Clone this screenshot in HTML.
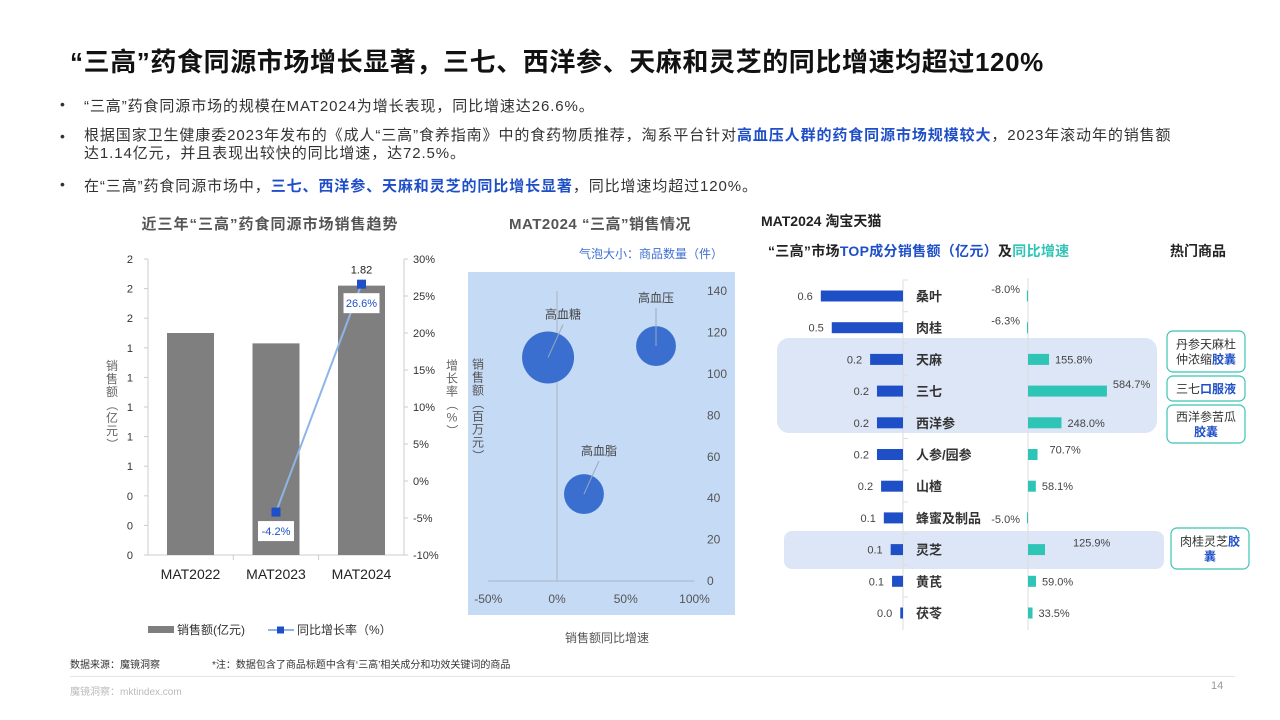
<!DOCTYPE html>
<html><head><meta charset="utf-8">
<style>
body{margin:0;width:1280px;height:720px;background:#fff;font-family:"Liberation Sans","Noto Sans CJK SC",sans-serif;position:relative;overflow:hidden;color:#333}
.a{position:absolute;white-space:nowrap}
.title{left:70px;top:42px;font-size:26px;font-weight:bold;color:#111;letter-spacing:0.6px}
.b{font-size:15px;color:#333;letter-spacing:0.9px}
.dot{font-size:14px;color:#333}
.hl{color:#1f4fc7;font-weight:bold}
svg text{font-family:"Liberation Sans","Noto Sans CJK SC",sans-serif}
</style></head><body>
<div class="a title">“三高”药食同源市场增长显著，三七、西洋参、天麻和灵芝的同比增速均超过120%</div>
<div class="a dot" style="left:60px;top:96px">•</div>
<div class="a b" style="left:84px;top:95px">“三高”药食同源市场的规模在MAT2024为增长表现，同比增速达26.6%。</div>
<div class="a dot" style="left:60px;top:128px">•</div>
<div class="a b" style="left:84px;top:127px;line-height:18px">根据国家卫生健康委2023年发布的《成人“三高”食养指南》中的食药物质推荐，淘系平台针对<span class="hl">高血压人群的药食同源市场规模较大</span>，2023年滚动年的销售额<br>达1.14亿元，并且表现出较快的同比增速，达72.5%。</div>
<div class="a dot" style="left:60px;top:176px">•</div>
<div class="a b" style="left:84px;top:175px">在“三高”药食同源市场中，<span class="hl">三七、西洋参、天麻和灵芝的同比增长显著</span>，同比增速均超过120%。</div>

<svg class="a" style="left:0;top:0" width="1280" height="720" id="svg">
<g id="c1"></g>
<g id="c2"></g>
<g id="c3"></g>
</svg>

<div class="a" style="left:70px;top:656px;font-size:10px;color:#333">数据来源：魔镜洞察</div>
<div class="a" style="left:212px;top:656px;font-size:10px;color:#333">*注：数据包含了商品标题中含有‘三高’相关成分和功效关键词的商品</div>
<div class="a" style="left:70px;top:676px;width:1165px;height:1px;background:#e5e5e5"></div>
<div class="a" style="left:70px;top:683px;font-size:10px;color:#bbb">魔镜洞察：mktindex.com</div>
<div class="a" style="left:1211px;top:680px;font-size:11px;color:#999">14</div>

<script>
// ---- chart 1 data ----
const years=["MAT2022","MAT2023","MAT2024"];
const sales=[1.50,1.43,1.82];
const growth=[null,-4.2,26.6];
const leftTicks=[0,0.2,0.4,0.6,0.8,1.0,1.2,1.4,1.6,1.8,2.0];
const rightTicks=[-10,-5,0,5,10,15,20,25,30];
// ---- chart 2 data ----
const bubbleNames=["高血糖","高血压","高血脂"];
const bubbleX=[-6.5,72,19.6];
const bubbleY=[108,113.5,42];
const bubbleSize=[170,100,100];
const bxTicks=[-50,0,50,100];
const byTicks=[0,20,40,60,80,100,120,140];
// ---- chart 3 data ----
const ingredients=["桑叶","肉桂","天麻","三七","西洋参","人参/园参","山楂","蜂蜜及制品","灵芝","黄芪","茯苓"];
const ingSales=[0.6,0.52,0.24,0.19,0.19,0.19,0.16,0.14,0.09,0.08,0.02];
const ingGrowth=[-8.0,-6.3,155.8,584.7,248.0,70.7,58.1,-5.0,125.9,59.0,33.5];

const NS="http://www.w3.org/2000/svg";
function mk(parent,tag,attrs,txt){const e=document.createElementNS(NS,tag);for(const k in attrs)e.setAttribute(k,attrs[k]);if(txt!==undefined)e.textContent=txt;parent.appendChild(e);return e;}
function vtext(parent,x,yc,str,size,fill,name){
 const chars=[...str];const step=size+1;const y0=yc-(chars.length-1)*step/2;
 const g=mk(parent,'g',{});
 
 chars.forEach((c,k)=>{
  const isP='（）'.includes(c);
  const y=y0+k*step;
  if(isP) mk(g,'text',{x:x,y:y,'text-anchor':'middle','dominant-baseline':'central','font-size':size,fill:fill,transform:'rotate(90 '+x+' '+y+')'},c);
  else mk(g,'text',{x:x,y:y,'text-anchor':'middle','dominant-baseline':'central','font-size':size,fill:fill},c);
 });
}

// chart 1
(function(){
const g=document.getElementById('c1');
const x0=148,x1=404,yT=259,yB=555;
const yL=v=>yB-(v/2)*(yB-yT);
const yR=v=>yB-((v+10)/40)*(yB-yT);
const xc=i=>190.5+i*85.5;
let t=mk(g,'text',{x:270,y:229,'text-anchor':'middle','font-size':15,'font-weight':'bold',fill:'#555','letter-spacing':'1'},'近三年“三高”药食同源市场销售趋势');

mk(g,'line',{x1:x0,y1:yT,x2:x0,y2:yB,stroke:'#ccc'});
mk(g,'line',{x1:x1,y1:yT,x2:x1,y2:yB,stroke:'#ccc'});
mk(g,'line',{x1:x0,y1:yB,x2:x1,y2:yB,stroke:'#ccc'});
leftTicks.forEach(v=>{const y=yL(v);mk(g,'line',{x1:x0-4,y1:y,x2:x0,y2:y,stroke:'#ccc'});
 const e=mk(g,'text',{x:133,y:y+4,'text-anchor':'end','font-size':11,fill:'#333'},Math.round(v));
 });
rightTicks.forEach(v=>{const y=yR(v);mk(g,'line',{x1:x1,y1:y,x2:x1+4,y2:y,stroke:'#ccc'});
 const e=mk(g,'text',{x:413,y:y+4,'font-size':11,fill:'#333'},v+'%');
 });
[x0+85.3,x0+170.6].forEach(x=>mk(g,'line',{x1:x,y1:yB,x2:x,y2:yB+5,stroke:'#ccc'}));
years.forEach((c,i)=>{
 const r=mk(g,'rect',{x:xc(i)-23.5,y:yL(sales[i]),width:47,height:yB-yL(sales[i]),fill:'#7f7f7f'});
 
 const l=mk(g,'text',{x:xc(i),y:579,'text-anchor':'middle','font-size':14,fill:'#222'},c);
 
});
const li=sales.length-1;
let v=mk(g,'text',{x:xc(li),y:yL(sales[li])-12,'text-anchor':'middle','font-size':11,fill:'#222'},sales[li].toFixed(2));

const pts=[];growth.forEach((gv,i)=>{if(gv!==null)pts.push([xc(i),yR(gv),gv]);});
const pl=mk(g,'polyline',{points:pts.map(p=>p[0]+','+p[1]).join(' '),fill:'none',stroke:'#8fb4e8','stroke-width':2});

pts.forEach((p,k)=>{
 const m=mk(g,'rect',{x:p[0]-4.5,y:p[1]-4.5,width:9,height:9,fill:'#1f4fc7'});
 
 const ly=p[1]+20;
 mk(g,'rect',{x:p[0]-18,y:ly-11,width:36,height:20,fill:'#fff'});
 const tt=mk(g,'text',{x:p[0],y:ly+3,'text-anchor':'middle','font-size':11,fill:'#1f4fc7'},p[2].toFixed(1)+'%');
 
});
vtext(g,112,405,'销售额（亿元）',12,'#666','left-axis-title');
vtext(g,452,398,'增长率（%）',12,'#666','right-axis-title');
mk(g,'rect',{x:148,y:626,width:26,height:7,fill:'#7f7f7f'});
let lg1=mk(g,'text',{x:177,y:634,'font-size':12,fill:'#333'},'销售额(亿元)');

mk(g,'line',{x1:268,y1:630,x2:294,y2:630,stroke:'#8fb4e8','stroke-width':2});
mk(g,'rect',{x:277,y:626.5,width:7,height:7,fill:'#1f4fc7'});
let lg2=mk(g,'text',{x:297,y:634,'font-size':12,fill:'#333'},'同比增长率（%）');

})();

// chart 2
(function(){
const g=document.getElementById('c2');
let t=mk(g,'text',{x:600,y:229,'text-anchor':'middle','font-size':15,'font-weight':'bold',fill:'#555','letter-spacing':'0.5'},'MAT2024 “三高”销售情况');

let n=mk(g,'text',{x:723,y:258,'text-anchor':'end','font-size':12,fill:'#3d6fd0'},'气泡大小：商品数量（件）');

mk(g,'rect',{x:468,y:272,width:267,height:343,fill:'#c5daf5'});
const sx=v=>557+v*1.375, sy=v=>581-v*2.07;
mk(g,'line',{x1:sx(0),y1:sy(140),x2:sx(0),y2:sy(0),stroke:'#aab4c4','stroke-width':1});
mk(g,'line',{x1:sx(-50),y1:sy(0),x2:sx(100),y2:sy(0),stroke:'#aab4c4','stroke-width':1});
bxTicks.forEach(v=>{const e=mk(g,'text',{x:sx(v),y:603,'text-anchor':'middle','font-size':12,fill:'#555'},v+'%');});
byTicks.forEach(v=>{const e=mk(g,'text',{x:707,y:sy(v)+4,'font-size':12,fill:'#555'},v);});
bubbleNames.forEach((nm,i)=>{
 const cx=sx(bubbleX[i]),cy=sy(bubbleY[i]),r=26*Math.sqrt(bubbleSize[i]/170);
 const c=mk(g,'circle',{cx:cx,cy:cy,r:r,fill:'#3a6fcf'});
 
 const lx=cx+(i==1?0:15),ly=cy-(i==1?44:39);
 mk(g,'line',{x1:cx,y1:cy,x2:lx,y2:ly+6,stroke:'#9aa8bd','stroke-width':1});
 const tx=mk(g,'text',{x:lx,y:ly,'text-anchor':'middle','font-size':12,fill:'#444'},nm);
 
});
vtext(g,478,410,'销售额（百万元）',12,'#555','y-axis-title');
let xt=mk(g,'text',{x:607,y:642,'text-anchor':'middle','font-size':12,fill:'#555'},'销售额同比增速');

})();

// chart 3
(function(){
const g=document.getElementById('c3');
let t=mk(g,'text',{x:761,y:226,'font-size':14,'font-weight':'bold',fill:'#222'},'MAT2024 淘宝天猫');

let s=mk(g,'text',{x:768,y:256,'font-size':14,'font-weight':'bold',fill:'#222','letter-spacing':'0.3'});

mk(s,'tspan',{},'“三高”市场');mk(s,'tspan',{fill:'#1f4fc7'},'TOP成分销售额（亿元）');mk(s,'tspan',{},'及');mk(s,'tspan',{fill:'#2ec4b6'},'同比增速');
let h=mk(g,'text',{x:1170,y:256,'font-size':14,'font-weight':'bold',fill:'#222'},'热门商品');

const b1=mk(g,'rect',{x:777,y:338,width:380,height:95,rx:12,fill:'#dde6f6'});
const b2=mk(g,'rect',{x:784,y:531,width:380,height:38,rx:8,fill:'#dde6f6'});
const ax=903, gx=1028, rowY=i=>296+i*31.7, sS=137, gS=0.135;
mk(g,'line',{x1:ax,y1:280,x2:ax,y2:630,stroke:'#ddd'});
mk(g,'line',{x1:gx,y1:278,x2:gx,y2:630,stroke:'#ddd'});
ingredients.forEach((nm,i)=>{
 const y=rowY(i);
 mk(g,'line',{x1:ax,y1:y-16,x2:ax+5,y2:y-16,stroke:'#ddd'});
 const w=ingSales[i]*sS;
 const r=mk(g,'rect',{x:ax-w,y:y-5.5,width:w,height:11,fill:'#1f4fc7'});
 
 const l=mk(g,'text',{x:ax-w-8,y:y+4,'text-anchor':'end','font-size':11,fill:'#444'},ingSales[i].toFixed(1));
 
 const nt=mk(g,'text',{x:916,y:y+5,'font-size':13,'font-weight':'bold',fill:'#333'},nm);
 
 const gv=ingGrowth[i];const gw=Math.max(Math.abs(gv)*gS,1);
 const gb=mk(g,'rect',{x:gv<0?gx-gw:gx,y:y-5.5,width:gw,height:11,fill:'#2ec4b6'});
 
 let gl;
 if(gv<0){gl=mk(g,'text',{x:1020,y:i==7?y+5:y-3,'text-anchor':'end','font-size':11,fill:'#444'},gv.toFixed(1)+'%');}
 else{gl=mk(g,'text',{x:gx+gw+(gv>100&&gv<130?28:(gv>60&&gv<80?12:6)),y:y+(gv>500?-3:(gv>100&&gv<130?-3:(gv>60&&gv<80?-1:4))),'font-size':11,fill:'#444'},gv.toFixed(1)+'%');}
 
});
const boxes=[[1167,331,78,41,['丹参天麻杜','仲浓缩|胶囊']],[1167,376,78,25,['三七|口服液']],[1167,405,78,38,['西洋参苦瓜','|胶囊']],[1171,528,78,41,['肉桂灵芝|胶','|囊']]];
boxes.forEach(b=>{
 const r=mk(g,'rect',{x:b[0],y:b[1],width:b[2],height:b[3],rx:6,fill:'#fff',stroke:'#3cc4b4','stroke-width':1.2});
 
 const n=b[4].length;
 b[4].forEach((ln,k)=>{
  const yy=b[1]+b[3]/2+(k-(n-1)/2)*15+4.5;
  const tx=mk(g,'text',{x:b[0]+b[2]/2,y:yy,'text-anchor':'middle','font-size':12,fill:'#333'});
  
  const parts=ln.split('|');mk(tx,'tspan',{},parts[0]);if(parts[1]!==undefined)mk(tx,'tspan',{fill:'#1f4fc7','font-weight':'bold'},parts[1]);
 });
});
})();
</script>
</body></html>
